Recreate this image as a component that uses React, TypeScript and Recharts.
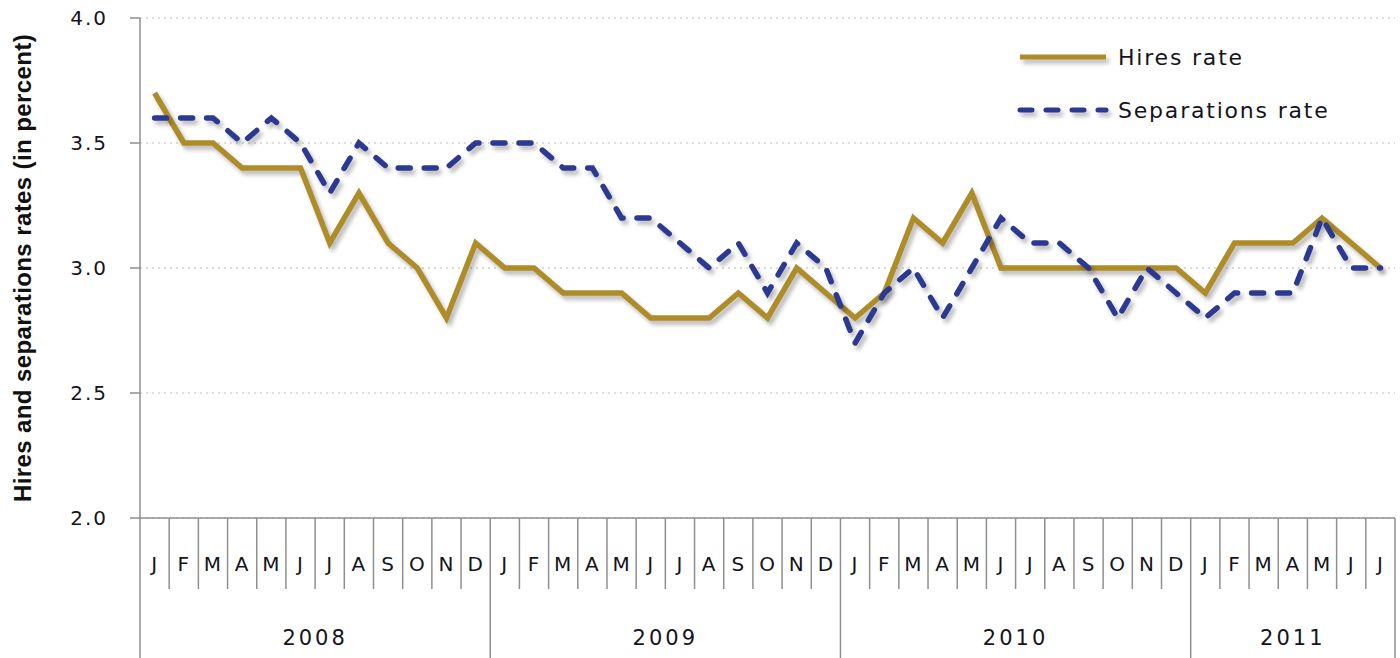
import { LineChart, Line, XAxis, YAxis, CartesianGrid, Legend } from "recharts";

const monthLetters = ["J", "F", "M", "A", "M", "J", "J", "A", "S", "O", "N", "D"];
const years = [2008, 2009, 2010, 2011];
const monthsPerYear = [12, 12, 12, 7];

// Jan 2008 .. Jul 2011
const hiresRate = [
  3.7, 3.5, 3.5, 3.4, 3.4, 3.4, 3.1, 3.3, 3.1, 3.0, 2.8, 3.1,
  3.0, 3.0, 2.9, 2.9, 2.9, 2.8, 2.8, 2.8, 2.9, 2.8, 3.0, 2.9,
  2.8, 2.9, 3.2, 3.1, 3.3, 3.0, 3.0, 3.0, 3.0, 3.0, 3.0, 3.0,
  2.9, 3.1, 3.1, 3.1, 3.2, 3.1, 3.0,
];
const separationsRate = [
  3.6, 3.6, 3.6, 3.5, 3.6, 3.5, 3.3, 3.5, 3.4, 3.4, 3.4, 3.5,
  3.5, 3.5, 3.4, 3.4, 3.2, 3.2, 3.1, 3.0, 3.1, 2.9, 3.1, 3.0,
  2.7, 2.9, 3.0, 2.8, 3.0, 3.2, 3.1, 3.1, 3.0, 2.8, 3.0, 2.9,
  2.8, 2.9, 2.9, 2.9, 3.2, 3.0, 3.0,
];
const yTicks = [2.0, 2.5, 3.0, 3.5, 4.0];

const GOLD = "#AE8C27";
const BLUE = "#2B3990";
const AXIS = "#8f8f8f";
const TEXT = "#141420";
const SHADOW = "drop-shadow(3px 4px 2px rgba(0,0,0,0.28))";

const WIDTH = 1400;
const HEIGHT = 658;
const LEFT = 140;
const RIGHT = 5;
const TOP = 18;
const X_AXIS_H = 140;

const chartData: {
  key: string;
  month: string;
  year: number;
  first: boolean;
  count: number;
  hires: number;
  separations: number;
}[] = [];
years.forEach((yr, yi) => {
  for (let m = 0; m < monthsPerYear[yi]; m++) {
    const i = chartData.length;
    chartData.push({
      key: `${yr}-${m}`,
      month: monthLetters[m],
      year: yr,
      first: m === 0,
      count: monthsPerYear[yi],
      hires: hiresRate[i],
      separations: separationsRate[i],
    });
  }
});

const band = (WIDTH - LEFT - RIGHT) / chartData.length;

function MonthTick(props: any) {
  const { x, y, payload } = props;
  const idx = payload.index;
  const row = chartData[idx];
  if (!row) return null;
  const half = band / 2;
  const left = x - half;
  const isLast = idx === chartData.length - 1;
  return (
    <g>
      <line
        x1={left}
        x2={left}
        y1={y}
        y2={row.first ? HEIGHT : y + 71}
        stroke={AXIS}
        strokeWidth={1.5}
      />
      {isLast && (
        <line x1={x + half} x2={x + half} y1={y} y2={HEIGHT} stroke={AXIS} strokeWidth={1.5} />
      )}
      <text
        x={x}
        y={y + 53}
        textAnchor="middle"
        fontFamily="DejaVu Sans"
        fontSize={20}
        letterSpacing={1}
        fill={TEXT}
      >
        {row.month}
      </text>
      {row.first && (
        <text
          x={left + (row.count * band) / 2}
          y={y + 127}
          textAnchor="middle"
          fontFamily="DejaVu Sans"
          fontSize={21}
          letterSpacing={3}
          fill={TEXT}
        >
          {row.year}
        </text>
      )}
    </g>
  );
}

function LegendContent() {
  const items = [
    { label: "Hires rate", color: GOLD, dash: undefined as string | undefined },
    { label: "Separations rate", color: BLUE, dash: "12 14" },
  ];
  return (
    <svg width={380} height={100} style={{ overflow: "visible" }}>
      {items.map((it, i) => (
        <g key={it.label}>
          <line
            x1={8}
            x2={94}
            y1={22 + i * 53}
            y2={22 + i * 53}
            stroke={it.color}
            strokeWidth={5}
            strokeDasharray={it.dash}
            strokeLinecap={it.dash ? "round" : "butt"}
            style={{ filter: SHADOW }}
          />
          <text
            x={106}
            y={30 + i * 53}
            fontFamily="DejaVu Sans"
            fontSize={22}
            letterSpacing={1.8}
            fill={TEXT}
          >
            {it.label}
          </text>
        </g>
      ))}
    </svg>
  );
}

export default function App() {
  return (
    <div style={{ position: "absolute", left: 0, top: 0, width: WIDTH, height: HEIGHT, background: "#fff" }}>
      <style>{`.recharts-line-curve { filter: ${SHADOW}; }`}</style>
      <LineChart
        width={WIDTH}
        height={HEIGHT}
        data={chartData}
        margin={{ top: TOP, right: RIGHT, bottom: 0, left: 0 }}
      >
        <CartesianGrid vertical={false} stroke="#b9b9b9" strokeDasharray="2 4" />
        <XAxis
          dataKey="key"
          type="category"
          scale="band"
          interval={0}
          height={X_AXIS_H}
          axisLine={{ stroke: AXIS, strokeWidth: 1.5 }}
          tickLine={false}
          tickSize={0}
          tickMargin={0}
          tick={<MonthTick />}
        />
        <YAxis
          domain={[2, 4]}
          ticks={yTicks}
          width={LEFT}
          axisLine={{ stroke: AXIS, strokeWidth: 1.5 }}
          tickLine={{ stroke: AXIS, strokeWidth: 1.5 }}
          tickSize={10}
          tickMargin={22}
          tickFormatter={(v: number) => v.toFixed(1)}
          tick={{ fontFamily: "DejaVu Sans", fontSize: 20, fill: TEXT, letterSpacing: 2 }}
          label={{
            value: "Hires and separations rates (in percent)",
            angle: -90,
            position: "insideLeft",
            offset: 22,
            style: {
              fontFamily: "Liberation Sans",
              fontWeight: 700,
              fontSize: 24,
              letterSpacing: 0.4,
              fill: "#111",
              textAnchor: "middle",
            },
          }}
        />
        <Legend
          layout="vertical"
          align="center"
          verticalAlign="middle"
          wrapperStyle={{ position: "absolute", left: 1012, top: 35, width: 380 }}
          content={<LegendContent />}
        />
        <Line
          type="linear"
          dataKey="hires"
          name="Hires rate"
          stroke={GOLD}
          strokeWidth={5.5}
          dot={false}
          activeDot={false}
          isAnimationActive={false}
        />
        <Line
          type="linear"
          dataKey="separations"
          name="Separations rate"
          stroke={BLUE}
          strokeWidth={5.5}
          strokeDasharray="12 14"
          strokeLinecap="round"
          dot={false}
          activeDot={false}
          isAnimationActive={false}
        />
      </LineChart>
    </div>
  );
}
